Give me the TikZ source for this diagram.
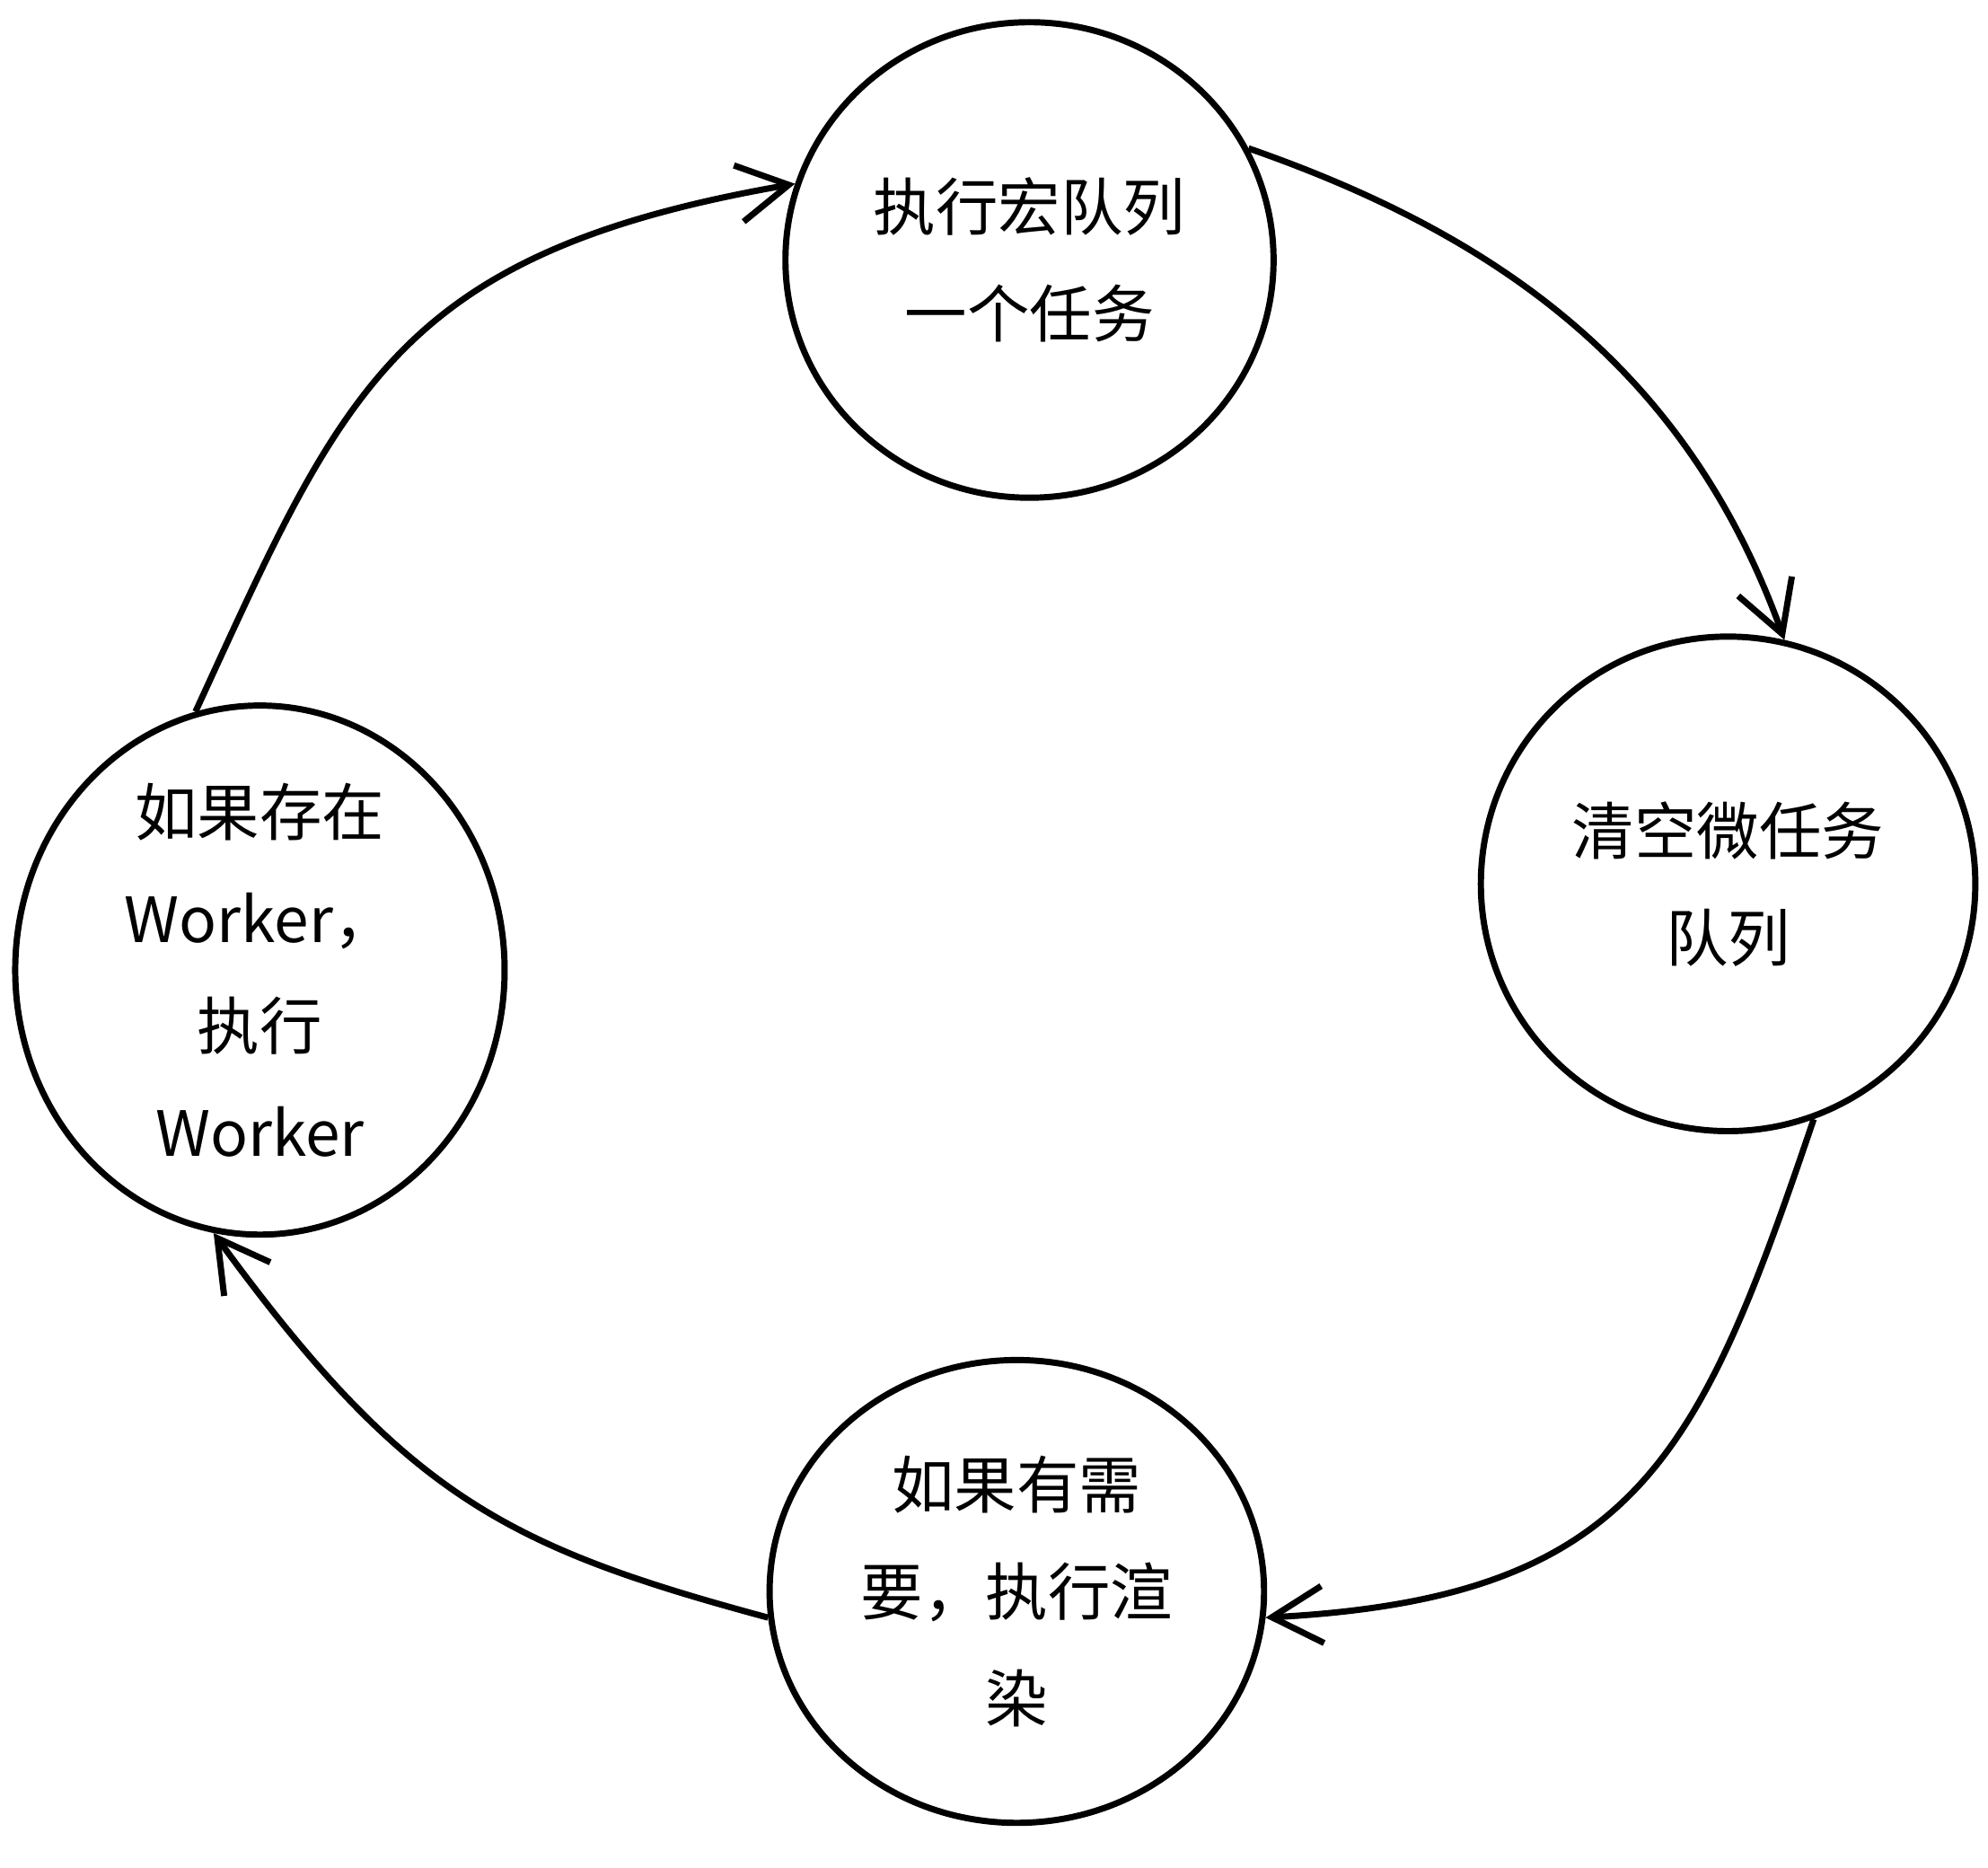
\documentclass[tikz,border=0pt]{standalone}
\usepackage{fontspec}
\newfontfamily\cjk{Noto Sans CJK SC}
\usetikzlibrary{arrows.meta,shapes.geometric}
\begin{document}
\begin{tikzpicture}[x=0.1mm,y=-0.1mm,
  st/.style={draw,line width=1.4pt,ellipse,inner sep=0pt,align=center,font=\cjk\fontsize{14pt}{24pt}\selectfont},
  conn/.style={line width=1.4pt,-{Straight Barb[length=4mm,width=4.5mm]}}]
\useasboundingbox (0,0) rectangle (1568,1473);
\node[st,minimum width=38.5mm,minimum height=37.5mm] (top) at (812,205) {执行宏队列\\一个任务};
\node[st,minimum width=39mm,minimum height=39mm] (right) at (1363,697) {清空微任务\\队列};
\node[st,minimum width=39mm,minimum height=36.5mm] (bot) at (802,1255) {如果有需\\要，执行渲\\染};
\node[st,minimum width=38.6mm,minimum height=38mm] (left) at (205,765) {如果存在\\Worker，\\执行\\Worker};
\draw[conn] (top.27) .. controls (1180,185) and (1330,290) .. (right.77);
\draw[conn] (right.-70) .. controls (1340,1150) and (1290,1260) .. (bot.-6);
\draw[conn] (bot.186) .. controls (400,1220) and (320,1180) .. (left.260);
\draw[conn] (left.104) .. controls (270,310) and (310,200) .. (top.162);
\end{tikzpicture}
\end{document}
